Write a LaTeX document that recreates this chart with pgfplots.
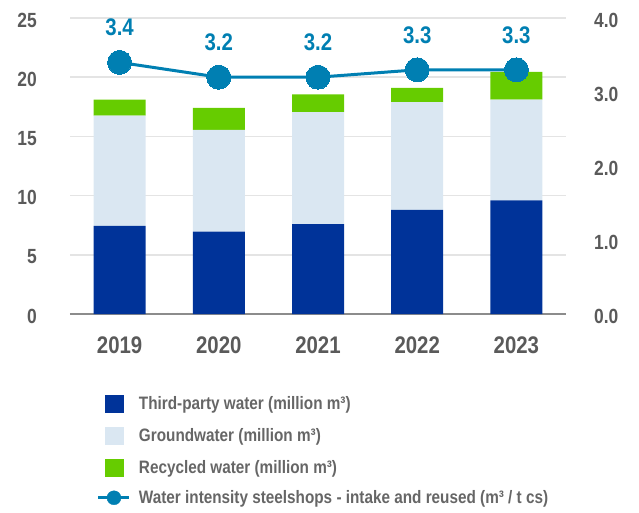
\documentclass[border=0pt]{standalone}
\usepackage{fontspec}
\setmainfont{Liberation Sans}[FakeStretch=0.85]
\usepackage{pgfplots}
\usepackage{pgfplotstable}
\pgfplotsset{compat=1.18}
\definecolor{thirdp}{HTML}{003399}
\definecolor{groundw}{HTML}{DAE7F2}
\definecolor{recyc}{HTML}{66CC00}
\definecolor{intens}{HTML}{007FB2}
\definecolor{ticktxt}{HTML}{5A5A5A}
\definecolor{legtxt}{HTML}{666666}
\definecolor{gridc}{HTML}{E4E4E4}
\definecolor{basec}{HTML}{8C8C8C}

\pgfplotstableread{
x third ground recyc
0 7.45 9.30 1.35
1 6.95 8.60 1.85
2 7.60 9.45 1.50
3 8.80 9.10 1.20
4 9.60 8.50 2.35
}\bartab

\pgfplotstableread{
x ratio
0 3.4
1 3.2
2 3.2
3 3.3
4 3.3
}\ratiotab

\pgfplotsset{
  /pgf/number format/assume math mode=true,
  base/.style={
    scale only axis, width=496pt, height=296pt,
    xmin=-0.5, xmax=4.5,
    tick style={draw=none},
    ticklabel style={font=\fontsize{20.5}{24}\selectfont\bfseries, text=ticktxt},
  },
}

\begin{document}
\begin{tikzpicture}
\begin{axis}[base, name=ax,
  ybar stacked, bar width=52pt,
  ymin=0, ymax=25, ytick={0,5,...,25},
  xtick=data, xticklabels={2019,2020,2021,2022,2023},
  xticklabel style={font=\fontsize{24}{28}\selectfont\bfseries, anchor=north, inner sep=0pt, yshift=-23pt},
  yticklabel style={anchor=east, inner sep=0pt, xshift=-33pt, yshift=-2pt},
  axis x line*=bottom, axis y line*=left,
  x axis line style={draw=basec, line width=2pt, -},
  y axis line style={draw=none},
  ymajorgrids, grid style={draw=gridc, line width=1.5pt},
  legend style={draw=none, fill=none, inner sep=0pt, outer sep=0pt,
    at={(0.0544,-0.272)}, anchor=north west,
    row sep=14pt, column sep=8pt,
    nodes={inner sep=0pt},
    font=\fontsize{18}{22}\selectfont\bfseries, text=legtxt},
  legend cell align=left,
]
\addplot[fill=thirdp, draw=none,
  legend image code/.code={\fill[thirdp] (0pt,-9pt) rectangle (19pt,9pt); \path (-7pt,0pt) (24pt,0pt);}]
  table[x=x, y=third] {\bartab};
\addlegendentry{Third-party water (million m³)}
\addplot[fill=groundw, draw=none,
  legend image code/.code={\fill[groundw] (0pt,-9pt) rectangle (19pt,9pt); \path (-7pt,0pt) (24pt,0pt);}]
  table[x=x, y=ground] {\bartab};
\addlegendentry{Groundwater (million m³)}
\addplot[fill=recyc, draw=none,
  legend image code/.code={\fill[recyc] (0pt,-9pt) rectangle (19pt,9pt); \path (-7pt,0pt) (24pt,0pt);}]
  table[x=x, y=recyc] {\bartab};
\addlegendentry{Recycled water (million m³)}
\addlegendimage{legend image code/.code={\draw[intens, line width=3pt] (-7pt,0pt) -- (24pt,0pt); \fill[intens] (8.5pt,0pt) circle (7pt);}}
\addlegendentry{Water intensity steelshops - intake and reused (m³ / t cs)}
\end{axis}

\begin{axis}[base,
  ymin=0, ymax=4, ytick={0,1,...,4},
  axis x line=none, axis y line*=right,
  y axis line style={draw=none},
  yticklabel={\pgfmathprintnumber[fixed,fixed zerofill,precision=1]{\tick}},
  yticklabel style={anchor=west, inner sep=0pt, xshift=28pt, yshift=-2pt},
  clip=false,
  nodes near coords={\pgfmathprintnumber[fixed,fixed zerofill,precision=1]{\pgfplotspointmeta}},
  nodes near coords style={font=\fontsize{24}{28}\selectfont\bfseries, text=intens, anchor=center, yshift=35pt},
]
\addplot[intens, line width=3pt, mark=*, mark size=12pt, mark options={fill=intens, draw=intens, line width=0pt}]
  table[x=x, y=ratio] {\ratiotab};
\end{axis}
\pgfresetboundingbox
\useasboundingbox ([shift={(-70pt,-199pt)}]ax.south west) rectangle ([shift={(73pt,18pt)}]ax.north east);
\end{tikzpicture}
\end{document}
